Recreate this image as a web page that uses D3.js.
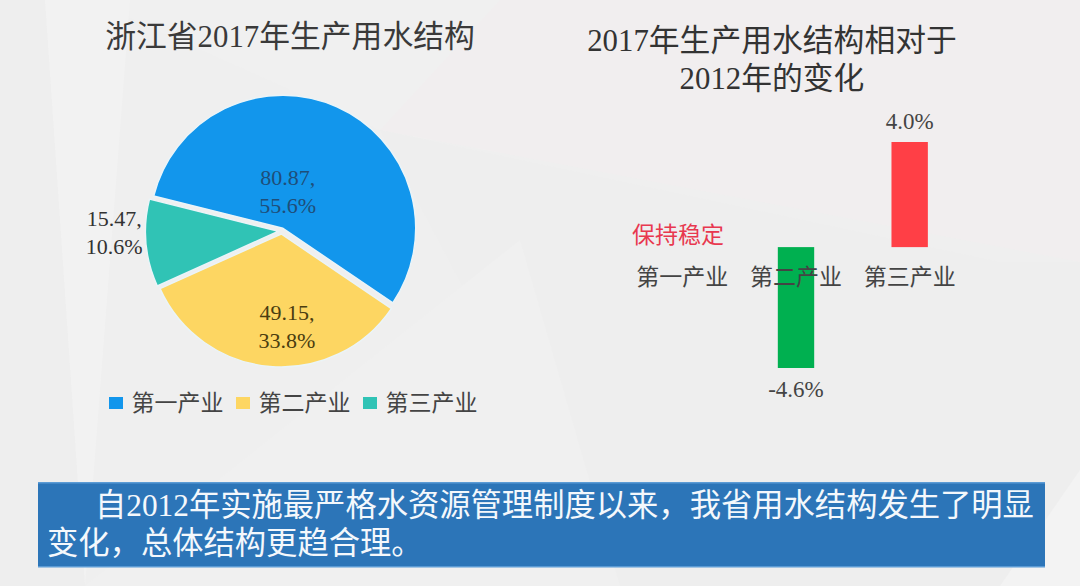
<!DOCTYPE html>
<html><head><meta charset="utf-8">
<script src="https://cdnjs.cloudflare.com/ajax/libs/d3/7.8.5/d3.min.js"></script>
<style>html,body{margin:0;padding:0;background:#efefef}svg{display:block}
text{font-family:"Liberation Serif","Noto Sans CJK SC",serif}</style></head><body>
<svg id="c" width="1080" height="586"></svg>
<script>
const categories = ["第一产业","第二产业","第三产业"];
const waterUse = [80.87,49.15,15.47];
const shareLabels = ["55.6%","33.8%","10.6%"];
const changeValues = [0,-4.6,4.0];
const changeLabels = ["","-4.6%","4.0%"];
const stableNote = "保持稳定";
const pieTitle = "浙江省2017年生产用水结构";
const barTitle = ["2017年生产用水结构相对于","2012年的变化"];
const summary = ["自2012年实施最严格水资源管理制度以来，我省用水结构发生了明显","变化，总体结构更趋合理。"];

const pieColors = ["#1296ec","#fdd662","#30c3b5"];
const barColors = ["#ff3f46","#00b050"];
const svg = d3.select("#c");

// background facets
const facets = [
 {p:"0,0 1080,0 1080,260 380,130 90,0",f:"#f0f0f0"},
 {p:"500,0 1080,0 1080,262 380,130",f:"#f1eeef"},
 {p:"0,0 45,0 85,586 0,586",f:"#eeeeee"},
 {p:"45,0 130,0 85,586",f:"#f2f2f2"},
 {p:"380,130 1000,262 1080,262 1080,586 620,586",f:"#eeeeee"},
 {p:"1000,586 1080,470 1080,586",f:"#f3f3f3"},
 {p:"85,586 520,240 620,586",f:"#f0f0f0"}
];
svg.append("rect").attr("width",1080).attr("height",586).attr("fill","#efefef");
svg.selectAll("polygon.f").data(facets).join("polygon").attr("class","f").attr("points",d=>d.p).attr("fill",d=>d.f);

// titles
svg.append("text").attr("x",290).attr("y",47).attr("text-anchor","middle").attr("font-size",30.8).attr("fill","#3a3a3a").text(pieTitle);
svg.selectAll("text.bt").data(barTitle).join("text").attr("class","bt").attr("x",772).attr("y",(d,i)=>51+i*38).attr("text-anchor","middle").attr("font-size",30.8).attr("fill","#333").text(d=>d);

// pie
const cx=281.5, cy=231, R=133, burst=3;
const start=-76*Math.PI/180;
const pie=d3.pie().sort(null).startAngle(start).endAngle(start+2*Math.PI);
const arc=d3.arc().innerRadius(0).outerRadius(R);
const arcs=pie(waterUse);
const g=svg.append("g").attr("transform",`translate(${cx},${cy})`);
const off=d=>{const a=(d.startAngle+d.endAngle)/2;return [Math.sin(a)*burst,-Math.cos(a)*burst];};
g.selectAll("path").data(arcs).join("path").attr("d",arc)
 .attr("transform",d=>`translate(${off(d)})`).attr("fill",(d,i)=>pieColors[i]).attr("stroke","#eaf4f8").attr("stroke-width",1.5);
const labelRadius=[.3,.75,1.24], nudge=[[-10,-3],[14,-3],[-3,-13]];
const labelColor=["#1f4e79","#4a3d10","#333"];
const lab=g.selectAll("text.l").data(arcs).join("text").attr("class","l").attr("text-anchor","middle").attr("font-size",22).attr("fill",(d,i)=>labelColor[i]);
lab.each(function(d,i){
  const a=(d.startAngle+d.endAngle)/2, r=R*labelRadius[i];
  const x=Math.sin(a)*r+nudge[i][0], y=-Math.cos(a)*r+nudge[i][1];
  const t=d3.select(this);
  t.append("tspan").attr("x",x).attr("y",y-7).text(d.data+",");
  t.append("tspan").attr("x",x).attr("y",y+21).text(shareLabels[i]);
});

// legend
const legendX=d3.scalePoint().domain(categories).range([109,363]);
const lg=svg.selectAll("g.lg").data(categories).join("g").attr("class","lg").attr("transform",d=>`translate(${legendX(d)},397)`);
lg.append("rect").attr("width",14).attr("height",12).attr("fill",(d,i)=>pieColors[i]);
lg.append("text").attr("x",22.5).attr("y",14).attr("font-size",23).attr("fill","#444").text(d=>d);

// bars
const x=d3.scaleBand().domain(categories).range([625.5,966.5]).paddingInner(.68).paddingOuter(.34);
const y=d3.scaleLinear().domain([-4.6,4]).range([368,142]);
svg.selectAll("rect.b").data(changeValues.map((v,i)=>({v,c:categories[i],l:changeLabels[i]}))).join("rect").attr("class","b")
 .attr("x",d=>x(d.c)).attr("width",x.bandwidth()).attr("y",d=>y(Math.max(0,d.v))).attr("height",d=>Math.abs(y(d.v)-y(0)))
 .attr("fill",d=>d.v>0?barColors[0]:barColors[1]);
svg.selectAll("text.v").data(changeValues.map((v,i)=>({v,c:categories[i],l:changeLabels[i]})).filter(d=>d.l)).join("text").attr("class","v")
 .attr("x",d=>x(d.c)+x.bandwidth()/2).attr("y",d=>d.v>0?y(d.v)-13:y(d.v)+29).attr("text-anchor","middle").attr("font-size",23).attr("fill","#444").text(d=>d.l);
const axis=d3.axisBottom(x).tickSize(0).tickPadding(0);
const ax=svg.append("g").attr("transform",`translate(0,${y(0)+22})`).call(axis);
ax.select(".domain").remove();
ax.selectAll("text").attr("font-size",23).attr("fill","#444").attr("font-family",'"Liberation Serif","Noto Sans CJK SC",serif');
svg.append("text").attr("x",632).attr("y",243).attr("font-size",23).attr("fill","#e8384f").text(stableNote);

// summary box
svg.append("rect").attr("x",38).attr("y",482).attr("width",1007).attr("height",85).attr("fill","#2c75b8");
svg.append("rect").attr("x",38).attr("y",482).attr("width",1007).attr("height",1.5).attr("fill","#5b9bd5");
svg.append("rect").attr("x",38).attr("y",566).attr("width",1007).attr("height",1.5).attr("fill","#5b9bd5");
svg.selectAll("text.s").data(summary).join("text").attr("class","s").attr("x",(d,i)=>i?47:95).attr("y",(d,i)=>516+i*38).attr("font-size",31.3).attr("fill","#f4f8fc").text(d=>d);
</script></body></html>
